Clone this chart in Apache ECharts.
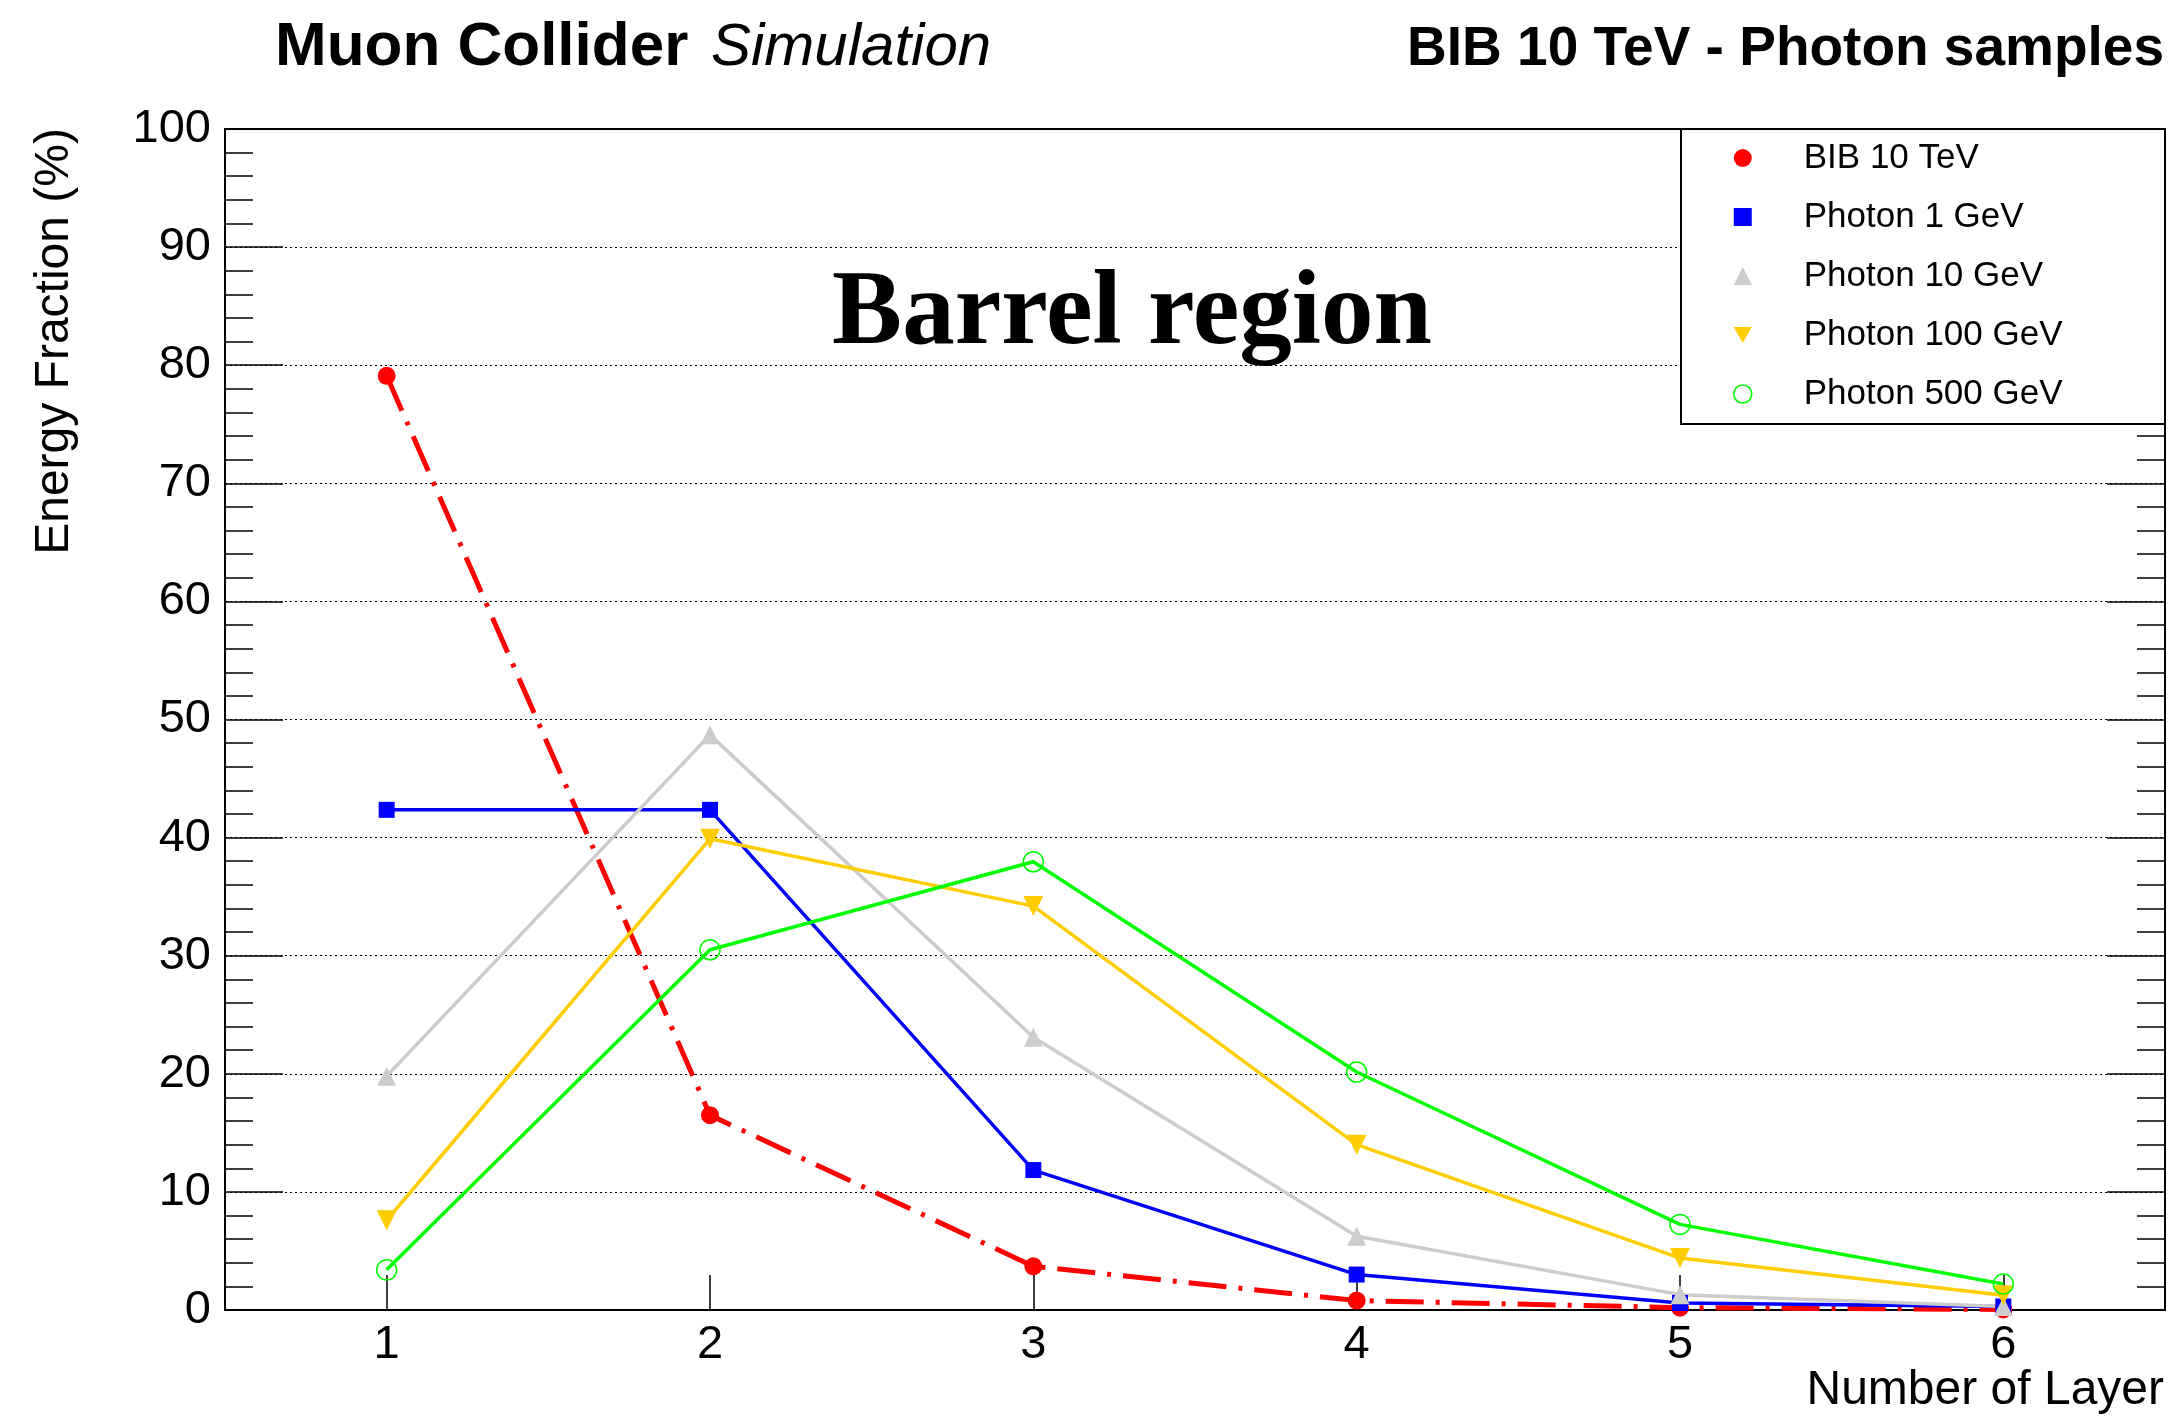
<!DOCTYPE html>
<html>
<head>
<meta charset="utf-8">
<title>Energy fraction per layer — Barrel region</title>
<script src="https://cdn.jsdelivr.net/npm/echarts@6/dist/echarts.min.js"></script>
<style>
  html, body { margin: 0; padding: 0; background: #fff; }
  #chart { width: 2178px; height: 1418px; }
</style>
</head>
<body>
<div id="chart"></div>
<script>
// Calorimeter layers along the x axis
const layers = ['1', '2', '3', '4', '5', '6'];

// Energy fraction (%) deposited in each layer
const bib10TeV     = [79.1, 16.5, 3.7, 0.8, 0.2, 0.05];
const photon1GeV   = [42.35, 42.35, 11.85, 3.0, 0.6, 0.3];
const photon10GeV  = [19.8, 48.7, 23.1, 6.25, 1.3, 0.3];
const photon100GeV = [7.6, 39.9, 34.2, 14.0, 4.4, 1.25];
const photon500GeV = [3.4, 30.5, 37.95, 20.15, 7.25, 2.2];

const seriesNames = ['BIB 10 TeV', 'Photon 1 GeV', 'Photon 10 GeV', 'Photon 100 GeV', 'Photon 500 GeV'];

const SANS = '"Liberation Sans", Arial, Helvetica, sans-serif';
const SERIF = '"Liberation Serif", "Times New Roman", serif';
const INV_TRIANGLE = 'path://M0,0 L10,0 L5,9 Z';

const chart = echarts.init(document.getElementById('chart'), null, { renderer: 'canvas' });

const yAxisCommon = {
  type: 'value',
  min: 0,
  max: 100,
  interval: 10,
  axisLine: { show: true, lineStyle: { color: '#000', width: 2 } },
  axisTick: { show: true, inside: true, length: 58, lineStyle: { color: '#000', width: 1.5 } },
  minorTick: { show: true, splitNumber: 5, length: 28, lineStyle: { color: '#000', width: 1.5 } },
  minorSplitLine: { show: false }
};

const option = {
  backgroundColor: '#fff',
  animation: false,
  grid: {
    left: 225, top: 129, width: 1940, height: 1181,
    containLabel: false,
    outerBoundsMode: 'none',
    show: true, borderColor: '#000', borderWidth: 2, backgroundColor: 'transparent'
  },
  xAxis: {
    type: 'category',
    data: layers,
    boundaryGap: true,
    axisLine: { show: true, lineStyle: { color: '#000', width: 2 } },
    axisTick: { show: true, inside: true, alignWithLabel: true, length: 35, lineStyle: { color: '#000', width: 1.5 } },
    axisLabel: { show: true, margin: 12, fontSize: 47, fontFamily: SANS, color: '#000' },
    splitLine: { show: false }
  },
  yAxis: [
    Object.assign({}, yAxisCommon, {
      position: 'left',
      axisLabel: { show: true, margin: 14, fontSize: 47, fontFamily: SANS, color: '#000',
                   verticalAlign: 'middle', lineHeight: 47, padding: [10, 0, 0, 0] },
      splitLine: { show: true, lineStyle: { color: '#000', width: 1.2, type: [2, 3] } }
    }),
    Object.assign({}, yAxisCommon, {
      position: 'right',
      axisLabel: { show: false },
      splitLine: { show: false }
    })
  ],
  legend: {
    orient: 'vertical',
    left: 1733,
    top: 138,
    padding: 0,
    itemWidth: 18,
    itemHeight: 18,
    itemGap: 19,
    z: 6,
    selectedMode: false,
    textStyle: { fontSize: 35, fontFamily: SANS, color: '#000', lineHeight: 40, padding: [0, 0, 0, 47] },
    data: [
      { name: seriesNames[0], icon: 'circle', itemStyle: { color: '#ff0000', borderWidth: 0 } },
      { name: seriesNames[1], icon: 'rect', itemStyle: { color: '#0000ff', borderWidth: 0 } },
      { name: seriesNames[2], icon: 'triangle', itemStyle: { color: '#cccccc', borderWidth: 0 } },
      { name: seriesNames[3], icon: INV_TRIANGLE, itemStyle: { color: '#ffcc00', borderWidth: 0 } },
      { name: seriesNames[4], icon: 'circle', itemStyle: { color: 'rgba(0,0,0,0)', borderColor: '#00ff00', borderWidth: 1.5 } }
    ]
  },
  graphic: [
    // legend frame
    { type: 'rect', z: 5, shape: { x: 1681, y: 129, width: 484, height: 295 },
      style: { fill: '#fff', stroke: '#000', lineWidth: 2 } },
    // header texts
    { type: 'text', z: 10, x: 275, y: 48,
      style: { text: 'Muon Collider', font: 'bold 62px ' + SANS, fill: '#000', textVerticalAlign: 'middle' } },
    { type: 'text', z: 10, x: 711, y: 48,
      style: { text: 'Simulation', font: 'italic 60px ' + SANS, fill: '#000', textVerticalAlign: 'middle' } },
    { type: 'text', z: 10, x: 2164, y: 50,
      style: { text: 'BIB 10 TeV - Photon samples', font: 'bold 55px ' + SANS, fill: '#000',
               textAlign: 'right', textVerticalAlign: 'middle' } },
    // region label inside the frame
    { type: 'text', z: 10, x: 1132, y: 316,
      style: { text: 'Barrel region', font: 'bold 105px ' + SERIF, fill: '#000',
               textAlign: 'center', textVerticalAlign: 'middle' } },
    // axis titles
    { type: 'text', z: 10, x: 55, y: 128, rotation: Math.PI / 2,
      style: { text: 'Energy Fraction (%)', font: '48px ' + SANS, fill: '#000',
               textAlign: 'right', textVerticalAlign: 'middle' } },
    { type: 'text', z: 10, x: 2164, y: 1391,
      style: { text: 'Number of Layer', font: '48px ' + SANS, fill: '#000',
               textAlign: 'right', textVerticalAlign: 'middle' } }
  ],
  series: [
    {
      name: seriesNames[0], type: 'line', data: bib10TeV, z: 3,
      symbol: 'circle', symbolSize: 18,
      itemStyle: { color: '#ff0000' },
      lineStyle: { color: '#ff0000', width: 5, type: [38, 12, 4, 12] }
    },
    {
      name: seriesNames[1], type: 'line', data: photon1GeV, z: 3,
      symbol: 'rect', symbolSize: 16,
      itemStyle: { color: '#0000ff' },
      lineStyle: { color: '#0000ff', width: 3.5 }
    },
    {
      name: seriesNames[2], type: 'line', data: photon10GeV, z: 3,
      symbol: 'triangle', symbolSize: 19,
      itemStyle: { color: '#cccccc' },
      lineStyle: { color: '#cccccc', width: 3.5 }
    },
    {
      name: seriesNames[3], type: 'line', data: photon100GeV, z: 3,
      symbol: 'triangle', symbolRotate: 180, symbolSize: 20,
      itemStyle: { color: '#ffcc00' },
      lineStyle: { color: '#ffcc00', width: 3.5 }
    },
    {
      name: seriesNames[4], type: 'line', data: photon500GeV, z: 3,
      symbol: 'circle', symbolSize: 20,
      itemStyle: { color: 'rgba(0,0,0,0)', borderColor: '#00ff00', borderWidth: 1.5 },
      lineStyle: { color: '#00ff00', width: 3.5 }
    }
  ]
};

chart.setOption(option);
</script>
</body>
</html>
